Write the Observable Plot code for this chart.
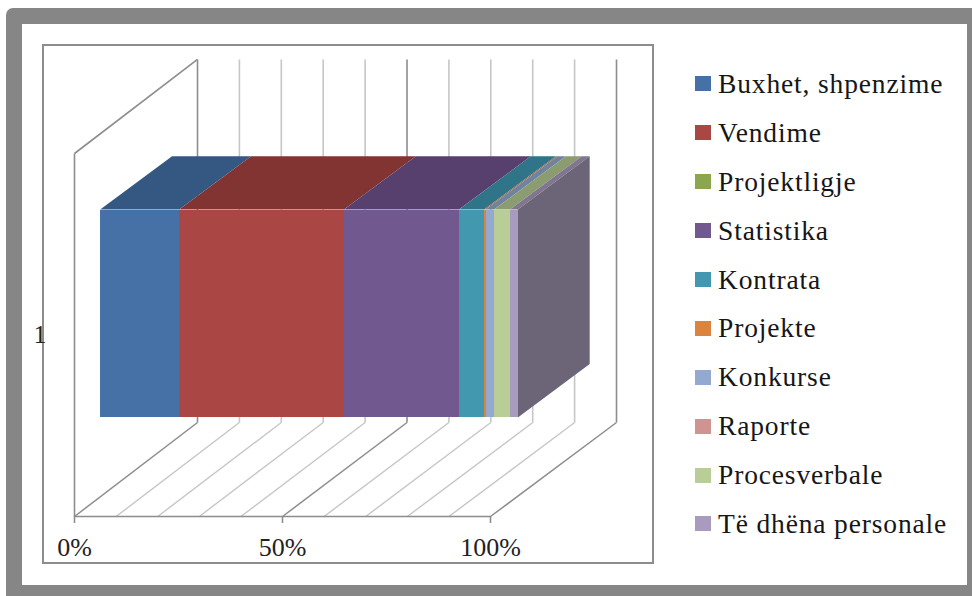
<!DOCTYPE html>
<html>
<head>
<meta charset="utf-8">
<script src="https://cdn.jsdelivr.net/npm/d3@7"></script>
<script src="https://cdn.jsdelivr.net/npm/@observablehq/plot@0.6"></script>
<style>
  html, body { margin: 0; padding: 0; background: #fff; }
  #page { position: relative; width: 972px; height: 596px; overflow: hidden; }
  #outer { position: absolute; left: 6px; top: 8px; width: 966px; height: 588px; background: #868686; border-radius: 7px 0 0 0; }
  #inner { position: absolute; left: 22px; top: 24px; width: 945px; height: 561px; background: #fff; }
  #border { position: absolute; left: 42px; top: 44px; width: 608px; height: 516px; border: 2px solid #8c8c8c; }
  #chart { position: absolute; left: 0; top: 0; }
  #legend { position: absolute; left: 695px; top: 59.5px; font-family: "Liberation Serif", serif; font-size: 27.5px; letter-spacing: 0.85px; color: #161616; }
  .row { display: flex; align-items: center; height: 48.9px; white-space: nowrap; }
  .swatch { width: 16px; height: 15px; margin-right: 7px; flex: none; }
</style>
</head>
<body>
<div id="page">
  <div id="outer"></div>
  <div id="inner"></div>
  <div id="border"></div>
  <div id="chart"></div>
  <div id="legend"></div>
</div>
<script>
const seriesNames = ["Buxhet, shpenzime", "Vendime", "Projektligje", "Statistika", "Kontrata", "Projekte", "Konkurse", "Raporte", "Procesverbale", "Të dhëna personale"];
const seriesValues = [18.9, 39.4, 0, 27.5, 6.0, 0.4, 2.0, 0, 3.8, 1.9];
const frontColors = ["#4571a6", "#aa4643", "#8aa64e", "#71588f", "#4198af", "#db843d", "#93a9cf", "#d19392", "#b9cd96", "#a99bbd"];
const topColors = ["#355882", "#823432", "#6a7f3c", "#573f6e", "#2f7488", "#a96630", "#6f83a0", "#a17170", "#8b9c71", "#80768f"];
const sideColor = "#6c6578";
const gridTicks = [0, 10, 20, 30, 40, 50, 60, 70, 80, 90, 100];
const majorTicks = [0, 50, 100];
const categoryLabel = "1";

// Oblique projection of the 3D box onto the two scales
const depthX = 29.57, depthY = 0.259, backStretch = 0.0072;
const barStretch = 1.005, barFront = 0.213, barBack = 0.78, barLow = 0.2165, barHigh = 0.789, barRun = 1.03;
const px = (p, z) => p * (1 + backStretch * z) + depthX * z;
const py = (h, z) => h + depthY * z;

const ends = Array.from(d3.cumsum(seriesValues));
const segments = seriesNames.map((name, i) => ({
  name,
  start: (ends[i] - seriesValues[i]) * barStretch,
  end: ends[i] * barStretch,
  top: topColors[i]
}));
const total = ends[ends.length - 1] * barStretch;

const floorLines = gridTicks.map(t => ({
  x1: px(t, 0), y1: py(0, 0), x2: px(t, 1), y2: py(0, 1), major: majorTicks.includes(t)
}));
const backLines = gridTicks.map(t => ({
  x1: px(t, 1), y1: py(0, 1), x2: px(t, 1), y2: py(1, 1), major: majorTicks.includes(t)
}));
const wallLines = [
  {x1: 0, y1: 0, x2: 0, y2: 1},
  {x1: 0, y1: 1, x2: px(0, 1), y2: py(1, 1)},
  {x1: 0, y1: 0, x2: 100, y2: 0}
];

const shiftX = z => depthX * (barFront + (z - barFront) * barRun);
const topFaces = segments.filter(s => s.end > s.start).map(s =>
  Plot.areaX(
    [barFront, barBack].map(z => ({
      a: s.start + shiftX(z),
      b: s.end + shiftX(z),
      y: py(barHigh, z)
    })),
    {x1: "a", x2: "b", y: "y", fill: s.top}
  )
);
const sidePoints = [barFront, barBack].map(z => ({
  x: total + shiftX(z),
  lo: py(barLow, z),
  hi: py(barHigh, z)
}));
const frontRects = segments.map(s => ({
  name: s.name,
  x1: s.start + shiftX(barFront),
  x2: s.end + shiftX(barFront),
  y1: py(barLow, barFront),
  y2: py(barHigh, barFront)
}));

const minorStroke = "#c6c6c6", majorStroke = "#8d8d8d";
const chart = Plot.plot({
  width: 972,
  height: 596,
  marginLeft: 74,
  marginRight: 482,
  marginTop: 153,
  marginBottom: 80,
  style: {background: "transparent", fontFamily: "'Liberation Serif', serif", fontSize: "26px", color: "#222"},
  x: {domain: [0, 100], label: null},
  y: {domain: [0, 1], label: null},
  color: {domain: seriesNames, range: frontColors},
  marks: [
    Plot.link(floorLines.filter(d => !d.major), {x1: "x1", y1: "y1", x2: "x2", y2: "y2", stroke: minorStroke, strokeWidth: 1.4}),
    Plot.link(backLines.filter(d => !d.major), {x1: "x1", y1: "y1", x2: "x2", y2: "y2", stroke: minorStroke, strokeWidth: 1.6}),
    Plot.link(floorLines.filter(d => d.major), {x1: "x1", y1: "y1", x2: "x2", y2: "y2", stroke: majorStroke, strokeWidth: 1.5}),
    Plot.link(backLines.filter(d => d.major), {x1: "x1", y1: "y1", x2: "x2", y2: "y2", stroke: majorStroke, strokeWidth: 1.6}),
    Plot.link(wallLines, {x1: "x1", y1: "y1", x2: "x2", y2: "y2", stroke: majorStroke, strokeWidth: 1.6}),
    Plot.axisX({ticks: majorTicks, tickSize: 7, tickPadding: 14, tickFormat: d => d + "%", stroke: majorStroke, strokeWidth: 1.6, label: null, fill: "#222"}),
    Plot.axisY({ticks: [0.5], tickSize: 0, tickPadding: 28, tickFormat: () => categoryLabel, label: null, fill: "#222"}),
    ...topFaces,
    Plot.areaY(sidePoints, {x: "x", y1: "lo", y2: "hi", fill: sideColor}),
    Plot.rect(frontRects, {x1: "x1", x2: "x2", y1: "y1", y2: "y2", fill: "name", shapeRendering: "crispEdges"})
  ]
});
document.getElementById("chart").appendChild(chart);

const legend = d3.select("#legend");
seriesNames.forEach((name, i) => {
  const row = legend.append("div").attr("class", "row");
  row.append("span").attr("class", "swatch").style("background", frontColors[i]);
  row.append("span").text(name);
});
</script>
</body>
</html>
